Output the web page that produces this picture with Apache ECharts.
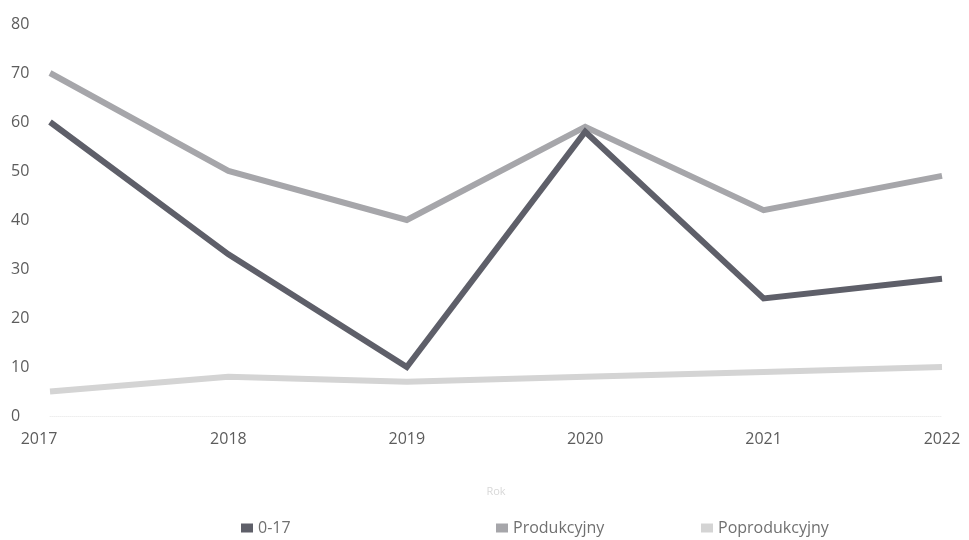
<!DOCTYPE html>
<html>
<head>
<meta charset="utf-8">
<script src="https://cdn.jsdelivr.net/npm/echarts@6/dist/echarts.min.js"></script>
<style>
html,body{margin:0;padding:0;background:#fff;}
#chart{width:969px;height:540px;}
</style>
</head>
<body>
<div id="chart"></div>
<script>
const years = ['2017', '2018', '2019', '2020', '2021', '2022'];
const yTicks = [0, 10, 20, 30, 40, 50, 60, 70, 80];
const seriesNames = ['0-17', 'Produkcyjny', 'Poprodukcyjny'];
const age0to17 = [60, 33, 10, 58, 24, 28];
const produkcyjny = [70, 50, 40, 59, 42, 49];
const poprodukcyjny = [5, 8, 7, 8, 9, 10];
const axisName = 'Rok';

const colors = ['#5e5f69', '#a6a6aa', '#d4d4d4'];
const font = '"Open Sans", "Noto Sans", sans-serif';

const chart = echarts.init(document.getElementById('chart'), null, {renderer: 'canvas'});
const values = [age0to17, produkcyjny, poprodukcyjny];
const legendLefts = [236, 491, 696];

chart.setOption({
  animation: false,
  backgroundColor: '#ffffff',
  grid: {left: 50, right: 27, top: 24, bottom: 124},
  legend: seriesNames.map((n, i) => ({
    data: [n],
    left: legendLefts[i],
    top: 515,
    icon: 'rect',
    itemWidth: 12,
    itemHeight: 9,
    itemGap: 6,
    textStyle: {color: '#707070', fontFamily: font, fontSize: 16}
  })),
  xAxis: {
    type: 'category',
    data: years,
    boundaryGap: false,
    name: axisName,
    nameLocation: 'middle',
    nameGap: 70,
    nameTextStyle: {color: '#d8d8d8', fontFamily: font, fontSize: 11},
    axisLine: {show: true, lineStyle: {color: '#eeeeee', type: 'dotted', width: 1}},
    axisTick: {show: false},
    axisLabel: {
      color: '#5c5c5c', fontFamily: font, fontSize: 16, margin: 15,
      formatter: (v, i) => i === 0 ? '{first|' + v + '}' : v,
      rich: {first: {color: '#5c5c5c', fontFamily: font, fontSize: 16, padding: [0, 22, 0, 0]}}
    }
  },
  yAxis: {
    type: 'value',
    min: yTicks[0],
    max: yTicks[yTicks.length - 1],
    interval: yTicks[1] - yTicks[0],
    axisLine: {show: false},
    axisTick: {show: false},
    splitLine: {show: false},
    axisLabel: {color: '#5c5c5c', fontFamily: font, fontSize: 16, align: 'left', margin: 39}
  },
  series: seriesNames.map((n, i) => ({
    name: n,
    type: 'line',
    data: values[i],
    symbol: 'none',
    color: colors[i],
    lineStyle: {width: 6, color: colors[i], join: 'miter'},
    z: 3 - i
  }))
});
</script>
</body>
</html>
